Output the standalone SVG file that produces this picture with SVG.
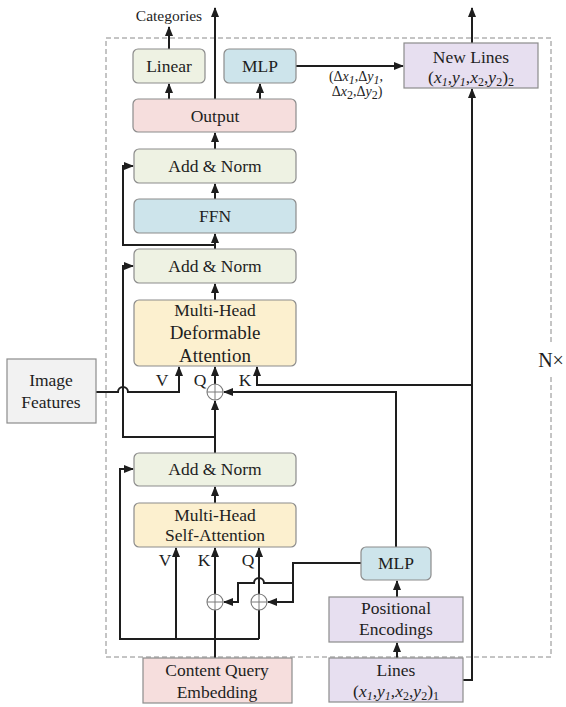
<svg xmlns="http://www.w3.org/2000/svg" width="566" height="707" viewBox="0 0 566 707">
<style>
text{font-family:"Liberation Serif","Times New Roman",serif;fill:#1e1e1e;text-anchor:middle;font-size:17.5px}
.box{stroke:#8c8c8c;stroke-width:1.2}
.g{fill:#eef2e3}.b{fill:#cde4eb}.p{fill:#f6dedd}.y{fill:#fcf0cf}.l{fill:#e7dff0}.gr{fill:#f2f2f2}
.c{fill:none;stroke:#1e1e1e;stroke-width:2}
.a{marker-end:url(#ah)}
.i{font-style:italic}
.sm{font-size:12px}
.circ{fill:#fff;stroke:#7a7a7a;stroke-width:1.1}
</style>
<defs>
<marker id="ah" markerUnits="userSpaceOnUse" markerWidth="10" markerHeight="10" viewBox="0 0 10 10" refX="9" refY="5" orient="auto">
<path d="M0,1 L10,5 L0,9 z" fill="#1e1e1e"/>
</marker>
</defs>
<rect x="0" y="0" width="566" height="707" fill="#fff"/>
<rect id="loop" x="106" y="38" width="445" height="619" fill="none" stroke="#8a8a8a" stroke-width="1" stroke-dasharray="5,3"/>
<g id="nx"><rect x="537" y="344" width="29" height="32" fill="#fff"/><text x="551" y="367" style="font-size:20px">N×</text></g>

<g id="connectors">
<path class="c a" d="M169,49 V27"/>
<path class="c a" d="M215,99 V8"/>
<path class="c a" d="M169,99 V84"/>
<path class="c a" d="M260,99 V84"/>
<path class="c a" d="M296,66 H403"/>
<path class="c a" d="M472,43 V8"/>
<path class="c a" d="M463,680 H472 V89"/>
<path class="c a" d="M472,385 H257 V367"/>
<path class="c a" d="M215,149 V133"/>
<path class="c a" d="M215,199 V184"/>
<path class="c a" d="M215,249 V234"/>
<path class="c a" d="M215,245 H123 V166 H133"/>
<path class="c a" d="M215,300 V284"/>
<path class="c a" d="M215,437 H123 V266 H133"/>
<path class="c a" d="M215,384 V367"/>
<path class="c a" d="M215,453 V401"/>
<path class="c a" d="M396,547 V392 H224"/>
<path class="c a" d="M96,392 H118 A5,5 0 0 1 128,392 H179 V367"/>
<path class="c a" d="M215,503 V487"/>
<path class="c a" d="M215,658 V548"/>
<path class="c a" d="M176,639 V548"/>
<path class="c a" d="M259,639 V548"/>
<path class="c a" d="M259,639 H120 V469 H133"/>
<path class="c a" d="M361,563 H293 V602 H268"/>
<path class="c a" d="M293,583 H264 A5,5 0 0 0 254,583 H238 V602 H224"/>
<path class="c a" d="M397,597 V581"/>
<path class="c a" d="M397,658 V643"/>
</g>

<g id="plus1"><circle class="circ" cx="215" cy="392" r="8"/><path d="M207,392 H223 M215,384 V400" stroke="#7a7a7a" stroke-width="1"/></g>
<g id="plus2"><circle class="circ" cx="215" cy="602" r="8"/><path d="M207,602 H223 M215,594 V610" stroke="#7a7a7a" stroke-width="1"/></g>
<g id="plus3"><circle class="circ" cx="259" cy="602" r="8"/><path d="M251,602 H267 M259,594 V610" stroke="#7a7a7a" stroke-width="1"/></g>

<g id="categories"><text x="169" y="21" style="font-size:15.5px">Categories</text></g>
<g id="linear"><rect class="box g" x="133" y="49" width="72" height="34" rx="5"/><text x="169" y="72">Linear</text></g>
<g id="mlp-top"><rect class="box b" x="224" y="49" width="72" height="34" rx="5"/><text x="260" y="72">MLP</text></g>
<g id="output"><rect class="box p" x="133" y="99" width="163" height="33" rx="5"/><text x="215" y="122">Output</text></g>
<g id="delta">
<text x="356" y="81" style="font-size:14px">(Δ<tspan class="i">x</tspan><tspan class="i sm" dy="3">1</tspan><tspan dy="-3">,Δ</tspan><tspan class="i">y</tspan><tspan class="i sm" dy="3">1</tspan><tspan dy="-3">,</tspan></text>
<text x="357" y="96" style="font-size:14px">Δ<tspan class="i">x</tspan><tspan class="sm" dy="3">2</tspan><tspan dy="-3">,Δ</tspan><tspan class="i">y</tspan><tspan class="sm" dy="3">2</tspan><tspan dy="-3">)</tspan></text>
</g>
<g id="new-lines"><rect class="box l" x="404" y="43" width="134" height="45"/><text x="471" y="63">New Lines</text>
<text x="471" y="83">(<tspan class="i">x</tspan><tspan class="i sm" dy="3">1</tspan><tspan dy="-3">,</tspan><tspan class="i">y</tspan><tspan class="i sm" dy="3">1</tspan><tspan dy="-3">,</tspan><tspan class="i">x</tspan><tspan class="sm" dy="3">2</tspan><tspan dy="-3">,</tspan><tspan class="i">y</tspan><tspan class="sm" dy="3">2</tspan><tspan dy="-3">)</tspan><tspan class="sm" dy="3">2</tspan></text></g>
<g id="addnorm1"><rect class="box g" x="134" y="149" width="162" height="34" rx="5"/><text x="215" y="172">Add &amp; Norm</text></g>
<g id="ffn"><rect class="box b" x="134" y="199" width="162" height="34" rx="5"/><text x="215" y="222">FFN</text></g>
<g id="addnorm2"><rect class="box g" x="134" y="249" width="162" height="34" rx="5"/><text x="215" y="272">Add &amp; Norm</text></g>
<g id="deform-attn"><rect class="box y" x="134" y="300" width="162" height="66" rx="5"/>
<text x="215" y="316">Multi-Head</text><text x="215" y="339" style="font-size:19px">Deformable</text><text x="215" y="362" style="font-size:19px">Attention</text></g>
<g id="labels-deform"><text x="162" y="386">V</text><text x="200" y="386">Q</text><text x="245" y="386">K</text></g>
<g id="image-features"><rect class="box gr" x="7" y="359" width="89" height="64"/><text x="51" y="386">Image</text><text x="51" y="408">Features</text></g>
<g id="addnorm3"><rect class="box g" x="134" y="453" width="162" height="33" rx="5"/><text x="215" y="475">Add &amp; Norm</text></g>
<g id="self-attn"><rect class="box y" x="134" y="503" width="162" height="44" rx="5"/><text x="215" y="521">Multi-Head</text><text x="215" y="541">Self-Attention</text></g>
<g id="labels-self"><text x="165" y="566">V</text><text x="204" y="566">K</text><text x="248" y="566">Q</text></g>
<g id="mlp-bottom"><rect class="box b" x="361" y="547" width="70" height="33" rx="5"/><text x="396" y="569">MLP</text></g>
<g id="pos-enc"><rect class="box l" x="329" y="597" width="134" height="45"/><text x="396" y="614">Positional</text><text x="396" y="635">Encodings</text></g>
<g id="content-query"><rect class="box p" x="143" y="658" width="149" height="45"/><text x="217" y="676">Content Query</text><text x="217" y="698">Embedding</text></g>
<g id="lines"><rect class="box l" x="329" y="658" width="134" height="44"/><text x="396" y="676">Lines</text>
<text x="396" y="697">(<tspan class="i">x</tspan><tspan class="i sm" dy="3">1</tspan><tspan dy="-3">,</tspan><tspan class="i">y</tspan><tspan class="i sm" dy="3">1</tspan><tspan dy="-3">,</tspan><tspan class="i">x</tspan><tspan class="sm" dy="3">2</tspan><tspan dy="-3">,</tspan><tspan class="i">y</tspan><tspan class="sm" dy="3">2</tspan><tspan dy="-3">)</tspan><tspan class="sm" dy="3">1</tspan></text></g>
</svg>
